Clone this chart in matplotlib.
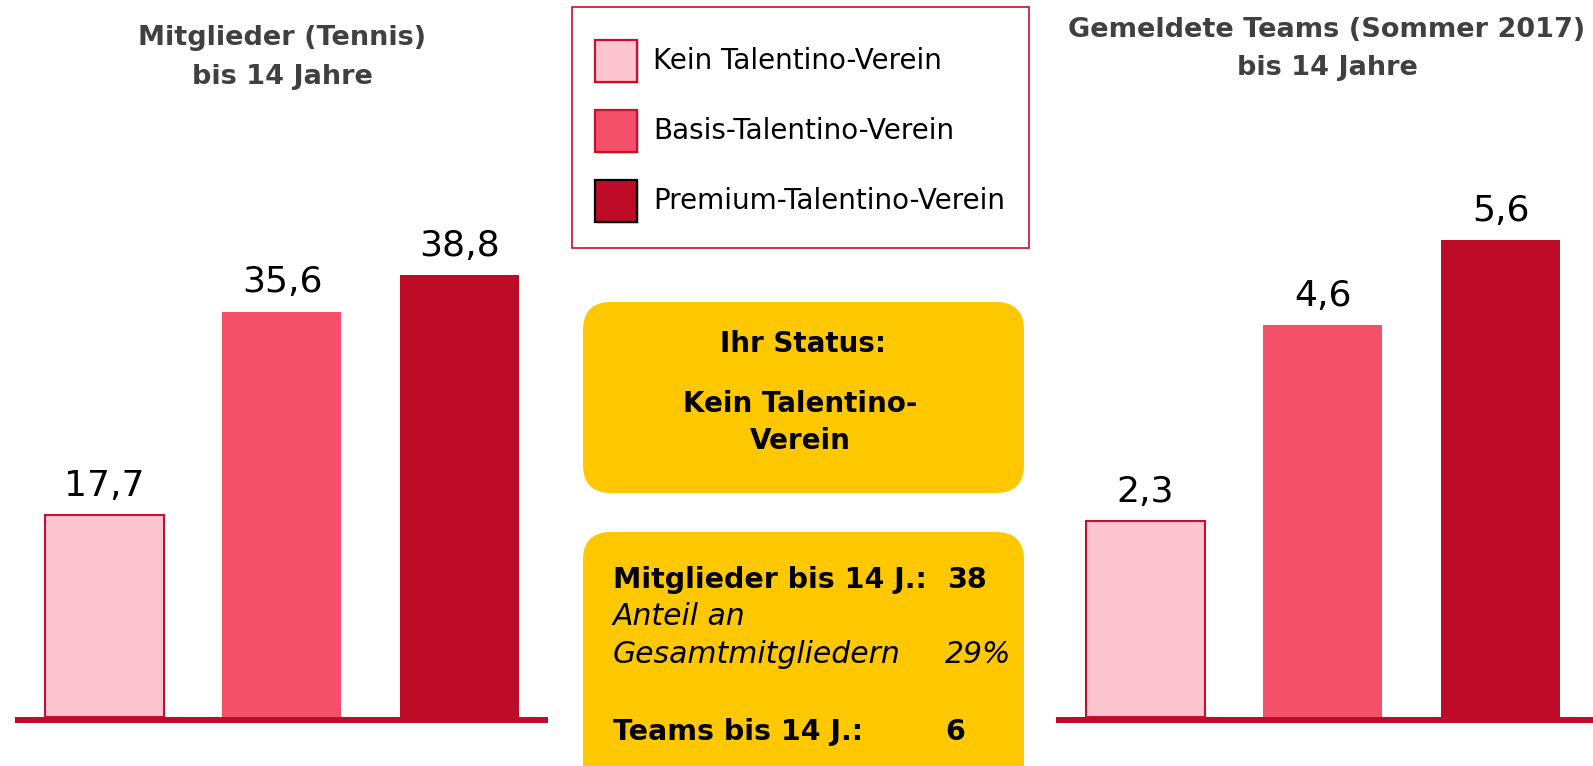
import matplotlib
matplotlib.use('Agg')
import matplotlib.pyplot as plt
from matplotlib.patches import Rectangle, FancyBboxPatch

# data
categories = ['Kein Talentino-Verein', 'Basis-Talentino-Verein', 'Premium-Talentino-Verein']
members = [17.7, 35.6, 38.8]
teams = [2.3, 4.6, 5.6]
title_left = ['Mitglieder (Tennis)', 'bis 14 Jahre']
title_right = ['Gemeldete Teams (Sommer 2017)', 'bis 14 Jahre']
status_head = 'Ihr Status:'
status_lines = ['Kein Talentino-', 'Verein']
stat_members = ('Mitglieder bis 14 J.:', '38')
stat_share = ('Anteil an', 'Gesamtmitgliedern', '29%')
stat_teams = ('Teams bis 14 J.:', '6')

colors = ['#fcc4cf', '#f5506a', '#bd0b28']
edge = '#c8102e'
yellow = '#fec800'
grey = '#404040'

plt.rcParams['font.family'] = ['DejaVu Sans']

W, H = 1593, 766
fig = plt.figure(figsize=(W / 100, H / 100), dpi=100)


def px_axes(x0, x1, ybase):
    return fig.add_axes([x0 / W, (H - ybase) / H, (x1 - x0) / W, ybase / H])


def fmt(v):
    return ('%.1f' % v).replace('.', ',')


def bar_chart(ax, vals, xlim, ytop):
    x = range(len(vals))
    bars = ax.bar(x, vals, width=0.67, color=colors, zorder=1)
    bars[0].set_edgecolor(edge)
    bars[0].set_linewidth(1.5)
    for i, v in enumerate(vals):
        ax.annotate(fmt(v), (i, v), xytext=(0, 13.7), textcoords='offset points',
                    ha='center', va='baseline', fontsize=26, color='black')
    ax.set_xlim(*xlim)
    ax.set_ylim(0, ytop)
    ax.set_xticks([])
    ax.set_yticks([])
    for s in ['top', 'left', 'right']:
        ax.spines[s].set_visible(False)
    sp = ax.spines['bottom']
    sp.set_color('#bd0b28')
    sp.set_linewidth(4.3)
    sp.set_capstyle('butt')
    sp.set_position(('outward', 2.16))
    sp.set_zorder(3)
    ax.patch.set_visible(False)


ax1 = px_axes(15, 548, 717)
bar_chart(ax1, members, (-0.504, 2.499), 717 / 11.39)
ax2 = px_axes(1056, 1593, 717)
bar_chart(ax2, teams, (-0.501, 2.52), 717 / 85.2)

# overlay in pixel coordinates
ov = fig.add_axes([0, 0, 1, 1], zorder=-1)
ov.set_xlim(0, W)
ov.set_ylim(H, 0)
ov.axis('off')

# titles
for txt, yb in zip(title_left, [45, 84]):
    ov.text(282, yb, txt, ha='center', va='baseline', fontsize=19.5,
            fontweight='bold', color=grey)
for txt, yb in zip(title_right, [37, 75]):
    ov.text(1327, yb, txt, ha='center', va='baseline', fontsize=19.5,
            fontweight='bold', color=grey)

# legend
ov.add_patch(Rectangle((572, 7), 1029 - 572, 248 - 7, fill=False,
                       edgecolor=edge, lw=1.2))
for i, (lab, c) in enumerate(zip(categories, colors)):
    y0 = 40 + 70 * i
    ov.add_patch(Rectangle((597, y0 + 2), 42, 42, facecolor='#999999',
                           edgecolor='none', alpha=0.35))
    ec = 'black' if i == 2 else edge
    ov.add_patch(Rectangle((595, y0), 42, 42, facecolor=c, edgecolor=ec, lw=1.6))
    ov.text(653, y0 + 21, lab, ha='left', va='center', fontsize=20, color='black')

# status boxes
r = 28
for (y0, y1) in [(302, 493), (532, 820)]:
    ov.add_patch(FancyBboxPatch((583 + r, y0 + r), 1024 - 583 - 2 * r, y1 - y0 - 2 * r,
                                boxstyle='round,pad=%d,rounding_size=%d' % (r, r),
                                facecolor=yellow, edgecolor='none'))

ov.text(803, 352, status_head, ha='center', va='baseline', fontsize=20, fontweight='bold')
for txt, yb in zip(status_lines, [412, 449]):
    ov.text(800, yb, txt, ha='center', va='baseline', fontsize=20, fontweight='bold')

ov.text(613, 588, stat_members[0], ha='left', va='baseline', fontsize=20.5, fontweight='bold')
ov.text(947, 588, stat_members[1], ha='left', va='baseline', fontsize=20.5, fontweight='bold')
ov.text(613, 625, stat_share[0], ha='left', va='baseline', fontsize=21.5, style='italic')
ov.text(613, 663, stat_share[1], ha='left', va='baseline', fontsize=21.5, style='italic')
ov.text(945, 663, stat_share[2], ha='left', va='baseline', fontsize=21.5, style='italic')
ov.text(613, 740, stat_teams[0], ha='left', va='baseline', fontsize=20.5, fontweight='bold')
ov.text(945, 740, stat_teams[1], ha='left', va='baseline', fontsize=20.5, fontweight='bold')

fig.savefig('out.png', dpi=100)
